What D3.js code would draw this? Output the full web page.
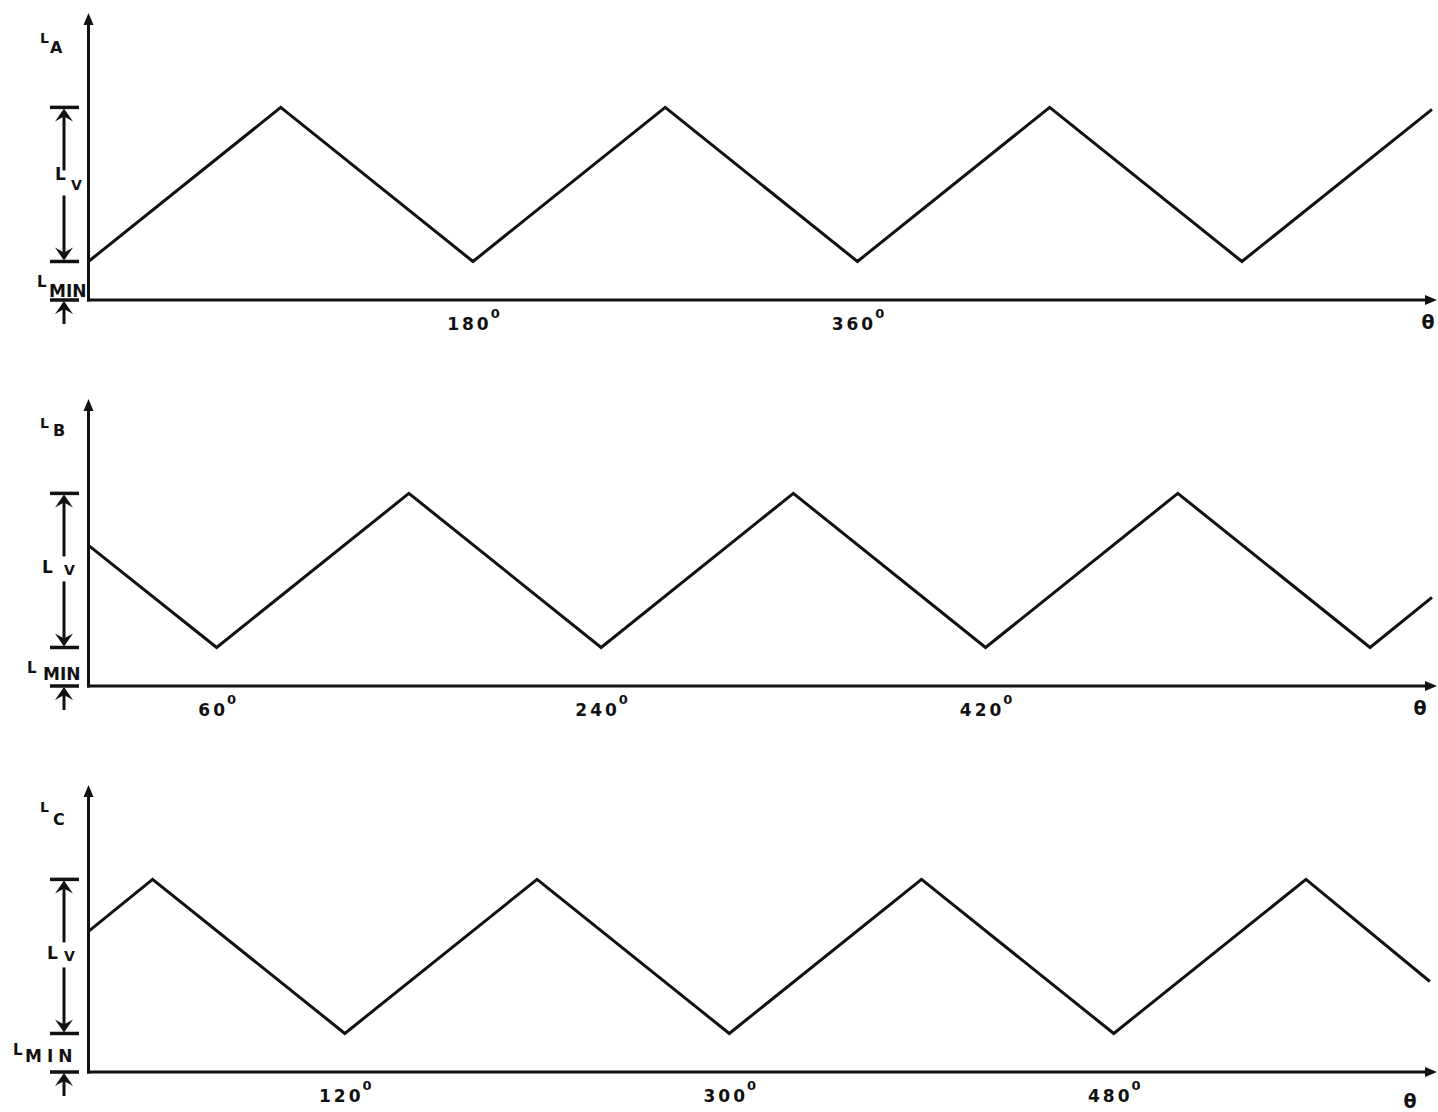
<!DOCTYPE html>
<html>
<head>
<meta charset="utf-8">
<script src="https://cdn.jsdelivr.net/npm/d3@7/dist/d3.min.js"></script>
<style>
  html, body { margin: 0; padding: 0; background: #fff; }
  svg { display: block; }
  text { font-family: "DejaVu Sans", Verdana, sans-serif; font-weight: bold; fill: #111; }
</style>
</head>
<body>
<script>
// Phase inductances of a three-phase machine versus rotor angle θ (degrees).
// Each waveform swings between L_MIN and L_MIN + L_V.
const L_MIN = 0.2;
const L_MAX = 1.0;
const Y_TOP = 1.49;
const THETA_END = 629;

const thetaA = [0, 90, 180, 270, 360, 450, 540, 629];
const levelA = [0.2, 1.0, 0.2, 1.0, 0.2, 1.0, 0.2, 0.99];

const thetaB = [0, 60, 150, 240, 330, 420, 510, 600, 629];
const levelB = [0.73, 0.2, 1.0, 0.2, 1.0, 0.2, 1.0, 0.2, 0.46];

const thetaC = [0, 30, 120, 210, 300, 390, 480, 570, 628];
const levelC = [0.73, 1.0, 0.2, 1.0, 0.2, 1.0, 0.2, 1.0, 0.47];

const ticksA = [180, 360];
const ticksB = [60, 240, 420];
const ticksC = [120, 300, 480];

const phaseNames = ["A", "B", "C"];

// Layout for each panel: baseline of the θ axis and label placements.
const panels = [
  { name: phaseNames[0], theta: thetaA, level: levelA, ticks: ticksA, axisY: 300,
    title: { lx: 40, ly: 43, sx: 50, sy: 53 },
    lv: { lx: 55, ly: -4, sx: 71, sy: 6 },
    lmin: { lx: 37, ly: 287, sx: 49, sy: 297, ls: 0 },
    thetaLbl: { x: 1428, y: 329 } },
  { name: phaseNames[1], theta: thetaB, level: levelB, ticks: ticksB, axisY: 686,
    title: { lx: 40, ly: 428, sx: 53, sy: 436 },
    lv: { lx: 42, ly: 3, sx: 64, sy: 5 },
    lmin: { lx: 27, ly: 673, sx: 43, sy: 680, ls: 0 },
    thetaLbl: { x: 1420, y: 715 } },
  { name: phaseNames[2], theta: thetaC, level: levelC, ticks: ticksC, axisY: 1072,
    title: { lx: 40, ly: 812, sx: 53, sy: 825 },
    lv: { lx: 47, ly: 3, sx: 64, sy: 5 },
    lmin: { lx: 13, ly: 1055, sx: 25, sy: 1062, ls: 5 },
    thetaLbl: { x: 1410, y: 1108 } }
];

const W = 1438, H = 1112;
const svg = d3.select("body").append("svg").attr("width", W).attr("height", H);
svg.append("rect").attr("width", W).attr("height", H).attr("fill", "#fff");

const x = d3.scaleLinear().domain([0, THETA_END]).range([88.5, 1432]);
const x0 = x(0);
const xEnd = x(THETA_END) + 3;
const dimX = 64;
const ink = "#111";

panels.forEach(p => {
  const y = d3.scaleLinear().domain([0, Y_TOP]).range([p.axisY, p.axisY - 287]);
  const g = svg.append("g");

  // axes with arrowheads
  g.append("line").attr("x1", x0).attr("x2", x0).attr("y1", y(Y_TOP) + 6).attr("y2", p.axisY + 1.5)
    .attr("stroke", ink).attr("stroke-width", 3);
  g.append("path").attr("d", `M${x0},${y(Y_TOP)} L${x0 - 5},${y(Y_TOP) + 12} L${x0 + 5},${y(Y_TOP) + 12} Z`).attr("fill", ink);
  g.append("line").attr("x1", x0 - 1.5).attr("x2", xEnd - 6).attr("y1", p.axisY).attr("y2", p.axisY)
    .attr("stroke", ink).attr("stroke-width", 3);
  g.append("path").attr("d", `M${xEnd + 2},${p.axisY} L${xEnd - 10},${p.axisY - 5} L${xEnd - 10},${p.axisY + 5} Z`).attr("fill", ink);

  // tick labels with degree superscript
  const axis = d3.axisBottom(x).tickValues(p.ticks).tickSize(0).tickFormat(d => d);
  const ag = g.append("g").attr("transform", `translate(0,${p.axisY})`).call(axis);
  ag.select(".domain").remove();
  ag.selectAll(".tick text").each(function(d) {
    const t = d3.select(this);
    t.text(null).attr("y", 30).attr("dy", null).attr("x", 0)
      .attr("font-family", "'DejaVu Sans', Verdana, sans-serif").attr("font-weight", "bold")
      .attr("font-size", 17).attr("fill", ink).attr("letter-spacing", 3).attr("text-anchor", "middle");
    t.append("tspan").text(String(d));
    t.append("tspan").attr("dy", -12).attr("dx", -1).attr("font-size", 13).attr("letter-spacing", 0).text("0");
  });

  // θ label
  g.append("text").attr("x", p.thetaLbl.x).attr("y", p.thetaLbl.y).attr("text-anchor", "middle")
    .attr("font-size", 19).text("θ");

  // inductance waveform
  const pts = p.theta.map((t, i) => [t, p.level[i]]);
  const line = d3.line().x(d => x(d[0])).y(d => y(d[1]));
  g.append("path").datum(pts).attr("d", line).attr("fill", "none")
    .attr("stroke", ink).attr("stroke-width", 3).attr("stroke-linejoin", "miter");

  // panel title L_A / L_B / L_C
  g.append("text").attr("x", p.title.lx).attr("y", p.title.ly).attr("font-size", 14).text("L");
  g.append("text").attr("x", p.title.sx).attr("y", p.title.sy).attr("font-size", 16).text(p.name);

  // L_V dimension: bars, arrows and label
  const yPk = y(L_MAX), yMn = y(L_MIN), yAx = y(0);
  const mid = (yPk + yMn) / 2;
  const bar = yy => g.append("line").attr("x1", dimX - 14).attr("x2", dimX + 15).attr("y1", yy).attr("y2", yy)
    .attr("stroke", ink).attr("stroke-width", 3.5);
  const arrowUp = yy => g.append("path").attr("d", `M${dimX},${yy + 1} L${dimX - 9},${yy + 14} L${dimX},${yy + 9} L${dimX + 9},${yy + 14} Z`).attr("fill", ink);
  const arrowDown = yy => g.append("path").attr("d", `M${dimX},${yy - 1} L${dimX - 9},${yy - 14} L${dimX},${yy - 9} L${dimX + 9},${yy - 14} Z`).attr("fill", ink);
  const vline = (a, b) => g.append("line").attr("x1", dimX).attr("x2", dimX).attr("y1", a).attr("y2", b)
    .attr("stroke", ink).attr("stroke-width", 3);

  bar(yPk); arrowUp(yPk); vline(yPk + 4, mid - 14);
  vline(mid + 11, yMn - 4); arrowDown(yMn); bar(yMn);
  g.append("text").attr("x", p.lv.lx).attr("y", mid + p.lv.ly).attr("font-size", 17).text("L");
  g.append("text").attr("x", p.lv.sx).attr("y", mid + p.lv.sy).attr("font-size", 14).text("V");

  // L_MIN dimension below the lower bar
  bar(yAx); arrowUp(yAx); vline(yAx + 4, yAx + 24);
  g.append("text").attr("x", p.lmin.lx).attr("y", p.lmin.ly).attr("font-size", 15).text("L");
  g.append("text").attr("x", p.lmin.sx).attr("y", p.lmin.sy).attr("font-size", 17)
    .attr("letter-spacing", p.lmin.ls).text("MIN");
});
</script>
</body>
</html>
